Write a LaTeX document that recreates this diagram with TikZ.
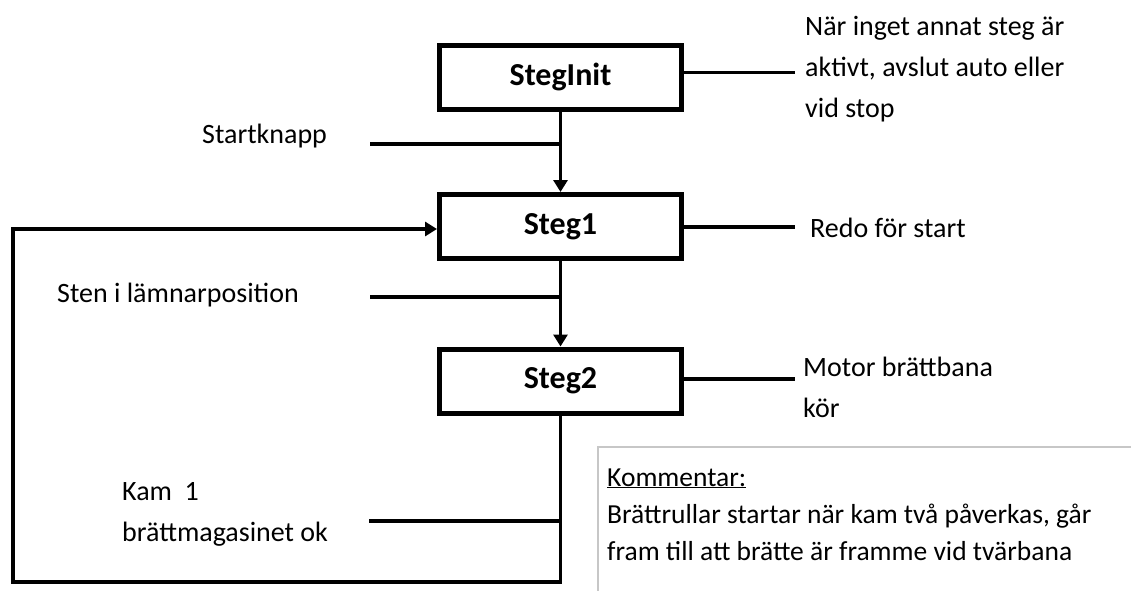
\documentclass[tikz,border=0pt]{standalone}
\usepackage{fontspec}
\setmainfont{Carlito}
\usetikzlibrary{arrows.meta}

\begin{document}
\begin{tikzpicture}[x=1pt,y=-1pt,
  stepbox/.style={draw, line width=5pt, minimum width=242pt, minimum height=64pt,
    inner sep=0pt, font=\fontsize{32}{38}\selectfont\bfseries},
  conn/.style={line width=3.6pt},
  arr/.style={conn, -{Triangle[length=12pt,width=14pt]}},
  % multi-line labels are placed by the baseline of their last line
  lbl/.style={anchor=base west, inner sep=0pt, align=left,
    font=\fontsize{28}{41}\selectfont},
  cmt/.style={anchor=base west, inner sep=0pt, align=left,
    font=\fontsize{27.5}{37}\selectfont}]

  \useasboundingbox (0,0) rectangle (1131,590);

  % step boxes
  \node[stepbox] (init) at (560.5,77) {StegInit};
  \node[stepbox] (s1)   at (560.5,226.5) {Steg1};
  \node[stepbox] (s2)   at (560.5,381) {Steg2};

  % transitions between steps
  \draw[arr] (init.south) -- (s1.north);
  \draw[arr] (s1.south) -- (s2.north);

  % transition condition ticks
  \coordinate (tk1) at (370,144);
  \coordinate (tk2) at (370,297);
  \coordinate (tk3) at (369,521);
  \draw[conn] (tk1) -- (tk1 -| init.south);
  \draw[conn] (tk2) -- (tk2 -| s1.south);
  \draw[conn] (tk3) -- (tk3 -| s2.south);

  % return path from Steg2 back to Steg1
  \coordinate (lb) at (13,582);
  \coordinate (lt) at (13,229);
  \draw[arr] (s2.south) -- (s2.south |- lb) -- (lb) -- (lt) -- (lt -| s1.west);

  % action lines
  \coordinate (a0) at (795,72.5);
  \coordinate (a1) at (795,227);
  \coordinate (a2) at (795,379);
  \draw[conn] (a0 -| init.east) -- (a0);
  \draw[conn] (a1 -| s1.east) -- (a1);
  \draw[conn] (a2 -| s2.east) -- (a2);

  % condition labels
  \node[lbl] (lstart) at (202,143) {Startknapp};
  \node[lbl] (lsten)  at (57,302) {Sten i lämnarposition};
  \node[lbl] (lkam)   at (122,541) {Kam\ \ 1\\brättmagasinet ok};

  % action labels
  \node[lbl] (linit) at (805,117) {När inget annat steg är\\aktivt, avslut auto eller\\vid stop};
  \node[lbl] (lredo) at (810,237) {Redo för start};
  \node[lbl] (lmot)  at (803,417) {Motor brättbana\\kör};

  % comment box
  \draw[draw=black!22, line width=1.5pt] (598,600) -- (598,447) -- (1140,447);
  \node[cmt] (lcmt) at (607,560) {\underline{Kommentar:}\\Brättrullar startar när kam två påverkas, går\\fram till att brätte är framme vid tvärbana};
\end{tikzpicture}
\end{document}
